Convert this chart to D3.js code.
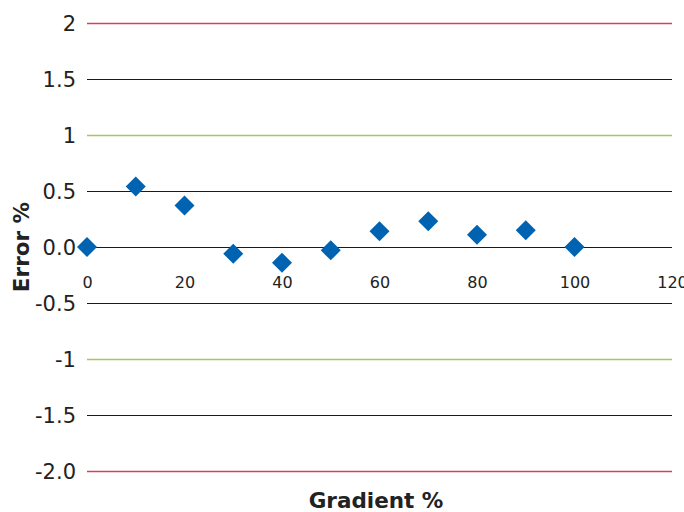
<!DOCTYPE html>
<html><head><meta charset="utf-8">
<script src="https://cdn.jsdelivr.net/npm/d3@7"></script>
<style>body{margin:0;background:#fff}</style>
</head><body><svg id="c" width="684" height="512"></svg>
<script>
const xValues = [0, 10, 20, 30, 40, 50, 60, 70, 80, 90, 100];
const errorValues = [0.0, 0.54, 0.37, -0.06, -0.14, -0.03, 0.14, 0.23, 0.11, 0.15, 0.0];
const yTicks = [2, 1.5, 1, 0.5, 0, -0.5, -1, -1.5, -2];
const yTickLabels = ["2", "1.5", "1", "0.5", "0.0", "-0.5", "-1", "-1.5", "-2.0"];
const xTicks = [0, 20, 40, 60, 80, 100, 120];

const svg = d3.select("#c");
const font = "Verdana, 'DejaVu Sans', sans-serif";
const x = d3.scaleLinear().domain([0, 120]).range([87, 672]);
const y = d3.scaleLinear().domain([-2, 2]).range([471, 23]);

function lineColor(v){
  if (Math.abs(v) === 2) return "#dc3c5e";
  if (Math.abs(v) === 1) return "#a6c85a";
  return "#1a1a1a";
}

// gridlines
svg.append("g").selectAll("line").data(yTicks).join("line")
  .attr("x1", x(0)).attr("x2", x(120))
  .attr("y1", d => Math.round(y(d)) + 0.5).attr("y2", d => Math.round(y(d)) + 0.5)
  .attr("stroke", d => lineColor(d))
  .attr("stroke-width", d => Math.abs(d) === 2 || Math.abs(d) === 1 ? 1.6 : 1);

// y tick labels
svg.append("g").selectAll("text").data(yTicks).join("text")
  .attr("x", 76).attr("y", d => y(d))
  .attr("dy", "0.36em").attr("text-anchor", "end")
  .attr("font-family", font).attr("font-size", 21).attr("fill", "#222")
  .text((d, i) => yTickLabels[i]);

// x axis labels
const xAxis = d3.axisBottom(x).tickValues(xTicks).tickSize(0).tickPadding(0).tickFormat(d3.format("d"));
const gx = svg.append("g").attr("transform", `translate(0,${y(0)})`).call(xAxis);
gx.select(".domain").remove();
gx.selectAll("text").attr("font-family", font).attr("font-size", 16).attr("fill", "#222")
  .attr("dy", null).attr("y", 41);

// points
const diamond = d3.symbol().type(d3.symbolSquare).size(200);
svg.append("g").selectAll("path").data(xValues).join("path")
  .attr("d", diamond())
  .attr("transform", (d, i) => `translate(${x(d)},${y(errorValues[i])}) rotate(45)`)
  .attr("fill", "#0063b1");

// axis titles
svg.append("text").attr("transform", `translate(29,${y(0)}) rotate(-90)`)
  .attr("text-anchor", "middle").attr("font-family", font).attr("font-weight", "bold")
  .attr("font-size", 21.5).attr("fill", "#222").text("Error %");
svg.append("text").attr("x", 376).attr("y", 508)
  .attr("text-anchor", "middle").attr("font-family", font).attr("font-weight", "bold")
  .attr("font-size", 21.5).attr("fill", "#222").text("Gradient %");
</script></body></html>
